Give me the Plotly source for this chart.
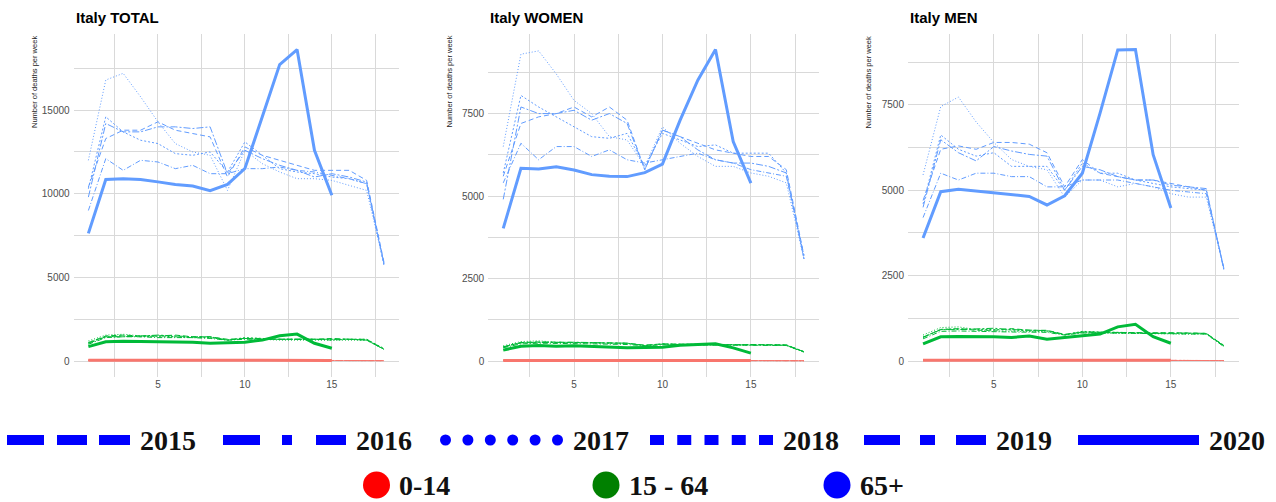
import plotly.graph_objects as go

W, H = 1276, 502

WEEKS = list(range(1, 19))
WEEKS_2020 = list(range(1, 16))
YEARS = [2015, 2016, 2017, 2018, 2019, 2020]

# ── weekly deaths ────────────────────────────────────────────────────────
TOTAL_65 = {
    2015: [10400, 13300, 13800, 13800, 14300, 13800, 13600, 13400, 11000, 12800, 12300, 12000, 11700, 11400, 11400, 11400, 10800, 5900],
    2016: [9000, 12100, 11400, 12000, 11900, 11500, 11700, 11200, 11200, 11500, 11500, 11600, 11400, 11300, 11100, 10900, 10600, 5800],
    2017: [12000, 16800, 17200, 15800, 14300, 13000, 12500, 12300, 10200, 12600, 11800, 11300, 10900, 10900, 10800, 10500, 10200, 5800],
    2018: [10300, 14600, 13700, 13200, 13000, 12400, 12300, 12500, 11300, 13100, 12300, 11500, 11300, 11200, 11000, 10900, 10600, 5700],
    2019: [9800, 14200, 13700, 13700, 14000, 14000, 13900, 14000, 11200, 12600, 12100, 11700, 11400, 11000, 11200, 11000, 10700, 5800],
    2020: [7630, 10850, 10890, 10850, 10710, 10560, 10460, 10180, 10560, 11510, 14600, 17720, 18620, 12600, 9910],
}
TOTAL_15_64 = {
    2015: [1100, 1500, 1550, 1500, 1500, 1550, 1450, 1450, 1300, 1350, 1350, 1300, 1300, 1300, 1350, 1300, 1300, 700],
    2016: [1000, 1400, 1450, 1450, 1400, 1400, 1400, 1350, 1250, 1300, 1300, 1300, 1300, 1300, 1250, 1300, 1250, 700],
    2017: [1200, 1550, 1600, 1500, 1450, 1450, 1400, 1400, 1250, 1350, 1300, 1250, 1250, 1250, 1250, 1250, 1250, 700],
    2018: [1100, 1450, 1500, 1450, 1500, 1450, 1400, 1400, 1250, 1400, 1350, 1300, 1300, 1300, 1300, 1300, 1300, 750],
    2019: [1050, 1450, 1450, 1500, 1550, 1500, 1450, 1450, 1250, 1350, 1300, 1300, 1300, 1300, 1300, 1300, 1250, 700],
    2020: [860, 1150, 1180, 1170, 1150, 1130, 1120, 1060, 1090, 1130, 1250, 1510, 1610, 1060, 760],
}
TOTAL_0_14 = {
    2015: [46, 52, 50, 49, 48, 47, 47, 46, 44, 45, 45, 44, 44, 43, 43, 42, 42, 25],
    2016: [44, 50, 48, 48, 47, 46, 46, 45, 43, 44, 44, 43, 43, 42, 42, 41, 41, 24],
    2017: [47, 53, 51, 50, 48, 47, 46, 46, 44, 45, 44, 44, 43, 43, 42, 42, 41, 24],
    2018: [45, 50, 49, 48, 48, 47, 46, 45, 43, 44, 44, 43, 43, 42, 42, 42, 41, 25],
    2019: [44, 49, 48, 48, 47, 46, 46, 45, 43, 44, 43, 43, 42, 42, 41, 41, 40, 24],
    2020: [42, 47, 46, 45, 45, 44, 44, 43, 42, 43, 42, 42, 41, 40, 38],
}

WOMEN_65 = {
    2015: [5600, 7200, 7400, 7500, 7700, 7400, 7700, 7300, 5800, 7000, 6800, 6600, 6400, 6300, 6200, 6200, 5800, 3200],
    2016: [5400, 6600, 6100, 6500, 6500, 6200, 6400, 6100, 6000, 6100, 6200, 6300, 6100, 6000, 5800, 5700, 5600, 3200],
    2017: [6500, 9300, 9400, 8700, 7900, 7500, 6800, 6700, 5900, 7100, 6600, 6200, 5900, 5900, 5700, 5600, 5400, 3100],
    2018: [5700, 8050, 7700, 7400, 7100, 6800, 6750, 6900, 5900, 6900, 6700, 6500, 6550, 6300, 6300, 6300, 5700, 3100],
    2019: [4900, 7700, 7500, 7500, 7600, 7300, 7500, 7200, 5800, 7000, 6800, 6400, 6100, 6000, 6000, 5900, 5700, 3100],
    2020: [4020, 5840, 5820, 5890, 5790, 5650, 5600, 5590, 5710, 5970, 7300, 8510, 9440, 6650, 5390],
}
WOMEN_15_64 = {
    2015: [430, 560, 580, 570, 560, 560, 550, 540, 480, 520, 510, 500, 500, 490, 500, 500, 490, 280],
    2016: [400, 520, 540, 540, 520, 520, 510, 500, 460, 490, 490, 490, 480, 480, 480, 470, 470, 270],
    2017: [460, 590, 610, 570, 560, 550, 540, 530, 470, 510, 500, 490, 480, 480, 480, 480, 470, 270],
    2018: [430, 560, 570, 570, 560, 550, 540, 540, 470, 520, 510, 500, 500, 500, 500, 490, 490, 290],
    2019: [420, 550, 560, 570, 570, 560, 550, 540, 470, 510, 500, 500, 500, 490, 500, 500, 480, 280],
    2020: [330, 450, 470, 450, 460, 440, 410, 400, 410, 420, 480, 510, 520, 400, 240],
}
WOMEN_0_14 = {
    2015: [20, 23, 22, 22, 21, 21, 21, 20, 19, 20, 20, 19, 19, 19, 19, 18, 18, 11],
    2016: [19, 22, 21, 21, 21, 20, 20, 20, 19, 19, 19, 19, 19, 18, 18, 18, 18, 10],
    2017: [21, 23, 22, 22, 21, 21, 20, 20, 19, 20, 19, 19, 19, 19, 18, 18, 18, 10],
    2018: [20, 22, 22, 21, 21, 21, 20, 20, 19, 19, 19, 19, 19, 18, 18, 18, 18, 11],
    2019: [19, 21, 21, 21, 21, 20, 20, 20, 19, 19, 19, 19, 18, 18, 18, 18, 17, 10],
    2020: [18, 21, 20, 20, 20, 19, 19, 19, 18, 19, 18, 18, 18, 17, 16],
}

MEN_65 = {
    2015: [4700, 6200, 6300, 6200, 6400, 6400, 6350, 6100, 5100, 5900, 5500, 5400, 5300, 5300, 5200, 5100, 5000, 2700],
    2016: [4200, 5500, 5300, 5500, 5500, 5400, 5400, 5100, 5100, 5300, 5300, 5300, 5200, 5100, 5000, 4950, 4900, 2700],
    2017: [5450, 7450, 7730, 7000, 6400, 5900, 5700, 5600, 4800, 5300, 5300, 5100, 5200, 5100, 4900, 4800, 4800, 2700],
    2018: [4600, 6620, 6200, 6000, 6100, 5700, 5700, 5700, 5000, 5800, 5500, 5500, 5300, 5200, 5100, 5050, 5000, 2700],
    2019: [4500, 6480, 6100, 5860, 6280, 6150, 6050, 6000, 5000, 5700, 5600, 5400, 5300, 5300, 5150, 5100, 5050, 2650],
    2020: [3600, 4960, 5030, 4980, 4930, 4890, 4820, 4570, 4840, 5500, 7260, 9110, 9120, 6040, 4480],
}
MEN_15_64 = {
    2015: [700, 920, 950, 900, 900, 950, 900, 900, 780, 850, 840, 830, 830, 830, 830, 820, 810, 450],
    2016: [650, 870, 880, 880, 860, 850, 850, 840, 760, 820, 820, 820, 800, 800, 800, 790, 790, 420],
    2017: [760, 980, 1000, 920, 880, 870, 860, 860, 770, 830, 820, 810, 800, 800, 800, 790, 790, 430],
    2018: [700, 930, 940, 930, 930, 910, 880, 880, 770, 870, 850, 830, 830, 820, 820, 810, 800, 460],
    2019: [690, 920, 920, 940, 960, 920, 900, 890, 770, 850, 840, 820, 820, 810, 820, 820, 810, 440],
    2020: [500, 710, 720, 720, 710, 690, 730, 640, 690, 740, 790, 1000, 1075, 710, 520],
}
MEN_0_14 = {
    2015: [26, 29, 28, 27, 27, 26, 26, 26, 25, 25, 25, 25, 25, 24, 24, 24, 24, 14],
    2016: [25, 28, 27, 27, 26, 26, 26, 25, 24, 25, 25, 24, 24, 24, 24, 23, 23, 14],
    2017: [26, 30, 29, 28, 27, 26, 26, 26, 25, 25, 25, 25, 24, 24, 24, 24, 23, 14],
    2018: [25, 28, 27, 27, 27, 26, 26, 25, 24, 25, 25, 24, 24, 24, 24, 24, 23, 14],
    2019: [25, 28, 27, 27, 26, 26, 26, 25, 24, 25, 24, 24, 24, 24, 23, 23, 23, 14],
    2020: [24, 26, 26, 25, 25, 25, 25, 24, 24, 24, 24, 24, 23, 23, 22],
}

PANELS = [
    ("Italy TOTAL", {"0-14": TOTAL_0_14, "15 - 64": TOTAL_15_64, "65+": TOTAL_65}, 5000),
    ("Italy WOMEN", {"0-14": WOMEN_0_14, "15 - 64": WOMEN_15_64, "65+": WOMEN_65}, 2500),
    ("Italy MEN", {"0-14": MEN_0_14, "15 - 64": MEN_15_64, "65+": MEN_65}, 2500),
]

AGE_COLORS = {"0-14": "#F8766D", "15 - 64": "#00BA38", "65+": "#619CFF"}
AGE_KEY_COLORS = {"0-14": "#FF0000", "15 - 64": "#008000", "65+": "#0000FF"}
DASH = {2015: "5px,3px", 2016: "5px,2px,1px,2px", 2017: "1px,2px",
        2018: "2px,2px", 2019: "7px,2px,2px,2px", 2020: "solid"}

# panel plot areas in pixels (left, right); shared top/bottom
PANEL_X = [(73.6, 398.8), (488.2, 819.0), (908.0, 1239.0)]
TOP, BOTTOM = 34.0, 376.6

SANS = "Liberation Sans, Arial, sans-serif"
SERIF = "Liberation Serif, Times New Roman, serif"
GRID = "#D9D9D9"


def px(x):
    return x / W


def py(y):
    return 1 - y / H


fig = go.Figure()
annotations, shapes = [], []

for i, (title, groups, step) in enumerate(PANELS):
    sfx = "" if i == 0 else str(i + 1)
    for age, series in groups.items():
        for yr in YEARS:
            fig.add_trace(go.Scatter(
                x=WEEKS_2020 if yr == 2020 else WEEKS, y=series[yr],
                mode="lines", xaxis="x" + sfx, yaxis="y" + sfx,
                line=dict(color=AGE_COLORS[age], width=3 if yr == 2020 else 1,
                          dash=DASH[yr]),
                showlegend=False, hoverinfo="skip",
            ))
    ymax = max(max(s[yr]) for s in groups.values() for yr in YEARS)
    x0, x1 = PANEL_X[i]
    axis_font = dict(family=SANS, size=10, color="#4D4D4D")
    fig.update_layout(**{
        "xaxis" + sfx: dict(
            domain=[px(x0), px(x1)], range=[0.15, 18.85], anchor="y" + sfx,
            tickmode="linear", tick0=0, dtick=5, showline=False, zeroline=False,
            gridcolor=GRID, gridwidth=1, ticks="", tickfont=axis_font,
            minor=dict(showgrid=True, tick0=0, dtick=2.5, gridcolor=GRID, gridwidth=1),
        ),
        "yaxis" + sfx: dict(
            domain=[py(BOTTOM), py(TOP)], range=[-0.05 * ymax, 1.05 * ymax],
            anchor="x" + sfx, tickmode="linear", tick0=0, dtick=step,
            tickformat="d", exponentformat="none",
            showline=False, zeroline=False, gridcolor=GRID, gridwidth=1,
            ticks="", tickfont=axis_font, ticklabelstandoff=3,
            minor=dict(showgrid=True, tick0=0, dtick=step / 2, gridcolor=GRID, gridwidth=1),
        ),
    })
    annotations.append(dict(
        text=f"<b>{title}</b>", x=px(x0), y=py(17.5), xref="paper", yref="paper",
        xanchor="left", yanchor="middle", showarrow=False,
        font=dict(family=SANS, size=15, color="#000000"),
    ))
    annotations.append(dict(
        text="Number of deaths per week", x=px(x0 - 38.6), y=py(82),
        xref="paper", yref="paper", xanchor="center", yanchor="middle",
        textangle=-90, showarrow=False,
        font=dict(family=SANS, size=7.5, color="#222222"),
    ))

# ── bottom key: year line styles ─────────────────────────────────────────
KEY_Y1, KEY_Y2 = 440, 485
KEY_BLUE = AGE_KEY_COLORS["65+"]
year_keys = [
    (2015, 7, 130, "37px,13px,30px,12px,31px,100px"),
    (2016, 223, 346, "37px,22px,10px,24px,30px,100px"),
    (2017, 440, 563, None),
    (2018, 650, 773, "14px,13.25px"),
    (2019, 864, 986, "36px,20px,15px,21px,30px,100px"),
    (2020, 1078, 1199, "solid"),
]
for yr, a, b, dash in year_keys:
    if dash is None:
        for k in range(6):
            cx = a + 5.5 + k * (b - a - 11) / 5
            shapes.append(dict(type="circle", xref="paper", yref="paper",
                               x0=px(cx - 5.5), x1=px(cx + 5.5),
                               y0=py(KEY_Y1 + 5.5), y1=py(KEY_Y1 - 5.5),
                               fillcolor=KEY_BLUE, line=dict(width=0)))
    else:
        shapes.append(dict(type="line", xref="paper", yref="paper",
                           x0=px(a), x1=px(b), y0=py(KEY_Y1), y1=py(KEY_Y1),
                           line=dict(color=KEY_BLUE, width=10, dash=dash)))
    annotations.append(dict(
        text=f"<b>{yr}</b>", x=px(b + 8), y=py(KEY_Y1), xref="paper", yref="paper",
        xanchor="left", yanchor="middle", showarrow=False,
        font=dict(family=SERIF, size=28, color="#111111"),
    ))

# ── bottom key: age group colours ────────────────────────────────────────
for age, cx in zip(AGE_KEY_COLORS, [376.5, 606, 837]):
    shapes.append(dict(type="circle", xref="paper", yref="paper",
                       x0=px(cx - 13.5), x1=px(cx + 13.5),
                       y0=py(KEY_Y2 + 13.5), y1=py(KEY_Y2 - 13.5),
                       fillcolor=AGE_KEY_COLORS[age], line=dict(width=0)))
    annotations.append(dict(
        text=f"<b>{age}</b>", x=px(cx + 21), y=py(KEY_Y2), xref="paper", yref="paper",
        xanchor="left", yanchor="middle", showarrow=False,
        font=dict(family=SERIF, size=28, color="#111111"),
    ))

fig.update_layout(
    width=W, height=H,
    margin=dict(l=0, r=0, t=0, b=0),
    plot_bgcolor="white", paper_bgcolor="white",
    showlegend=False,
    annotations=annotations, shapes=shapes,
)

# page has a default 8px body margin; drop it so the figure fills the window
fig.write_html("out.html",
               config={"displayModeBar": False},
               post_script="document.body.style.margin='0';"
                           "document.body.style.overflow='hidden';")
